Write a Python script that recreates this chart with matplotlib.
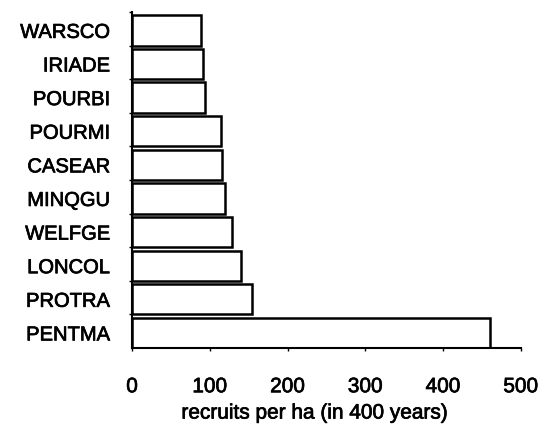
import numpy as np
import matplotlib.pyplot as plt
import matplotlib.patheffects as pe

# Recruitment per species, bottom to top
species = ['PENTMA', 'PROTRA', 'LONCOL', 'WELFGE', 'MINQGU',
           'CASEAR', 'POURMI', 'POURBI', 'IRIADE', 'WARSCO']
recruits = [460, 154, 140, 128, 120, 115, 114, 94, 91, 88]

plt.rcParams['font.family'] = ['Liberation Sans', 'DejaVu Sans']

fig = plt.figure(figsize=(5.46, 4.25), dpi=100)
ax = fig.add_axes([0.242, 0.181, 0.712, 0.791])

pos = np.arange(len(species))
ax.barh(pos, recruits, height=0.9, color='white', edgecolor='black',
        linewidth=1.8)

ax.set_xlim(0, 500)
ax.set_ylim(-0.45, len(species) - 0.45)
ax.set_xticks([0, 100, 200, 300, 400, 500])
ax.set_yticks(pos)
ax.set_yticklabels(species)
ax.set_yticks(pos + 0.55, minor=True)

ax.tick_params(axis='y', which='major', length=0, pad=16, labelsize=14.5)
ax.tick_params(axis='y', which='minor', length=2, width=1)
ax.tick_params(axis='x', length=2, width=1, pad=19, labelsize=15)

for side in ['top', 'right']:
    ax.spines[side].set_visible(False)
for side in ['left', 'bottom']:
    ax.spines[side].set_linewidth(1.5)

ax.set_xlabel('recruits per ha (in 400 years)', fontsize=15)
ax.xaxis.set_label_coords(0.47, -0.165)

# slightly heavier strokes on all text
heavy = [pe.withStroke(linewidth=0.5, foreground='black')]
for t in ax.get_xticklabels() + ax.get_yticklabels() + [ax.xaxis.label]:
    t.set_path_effects(heavy)

plt.savefig('out.png', dpi=100)
